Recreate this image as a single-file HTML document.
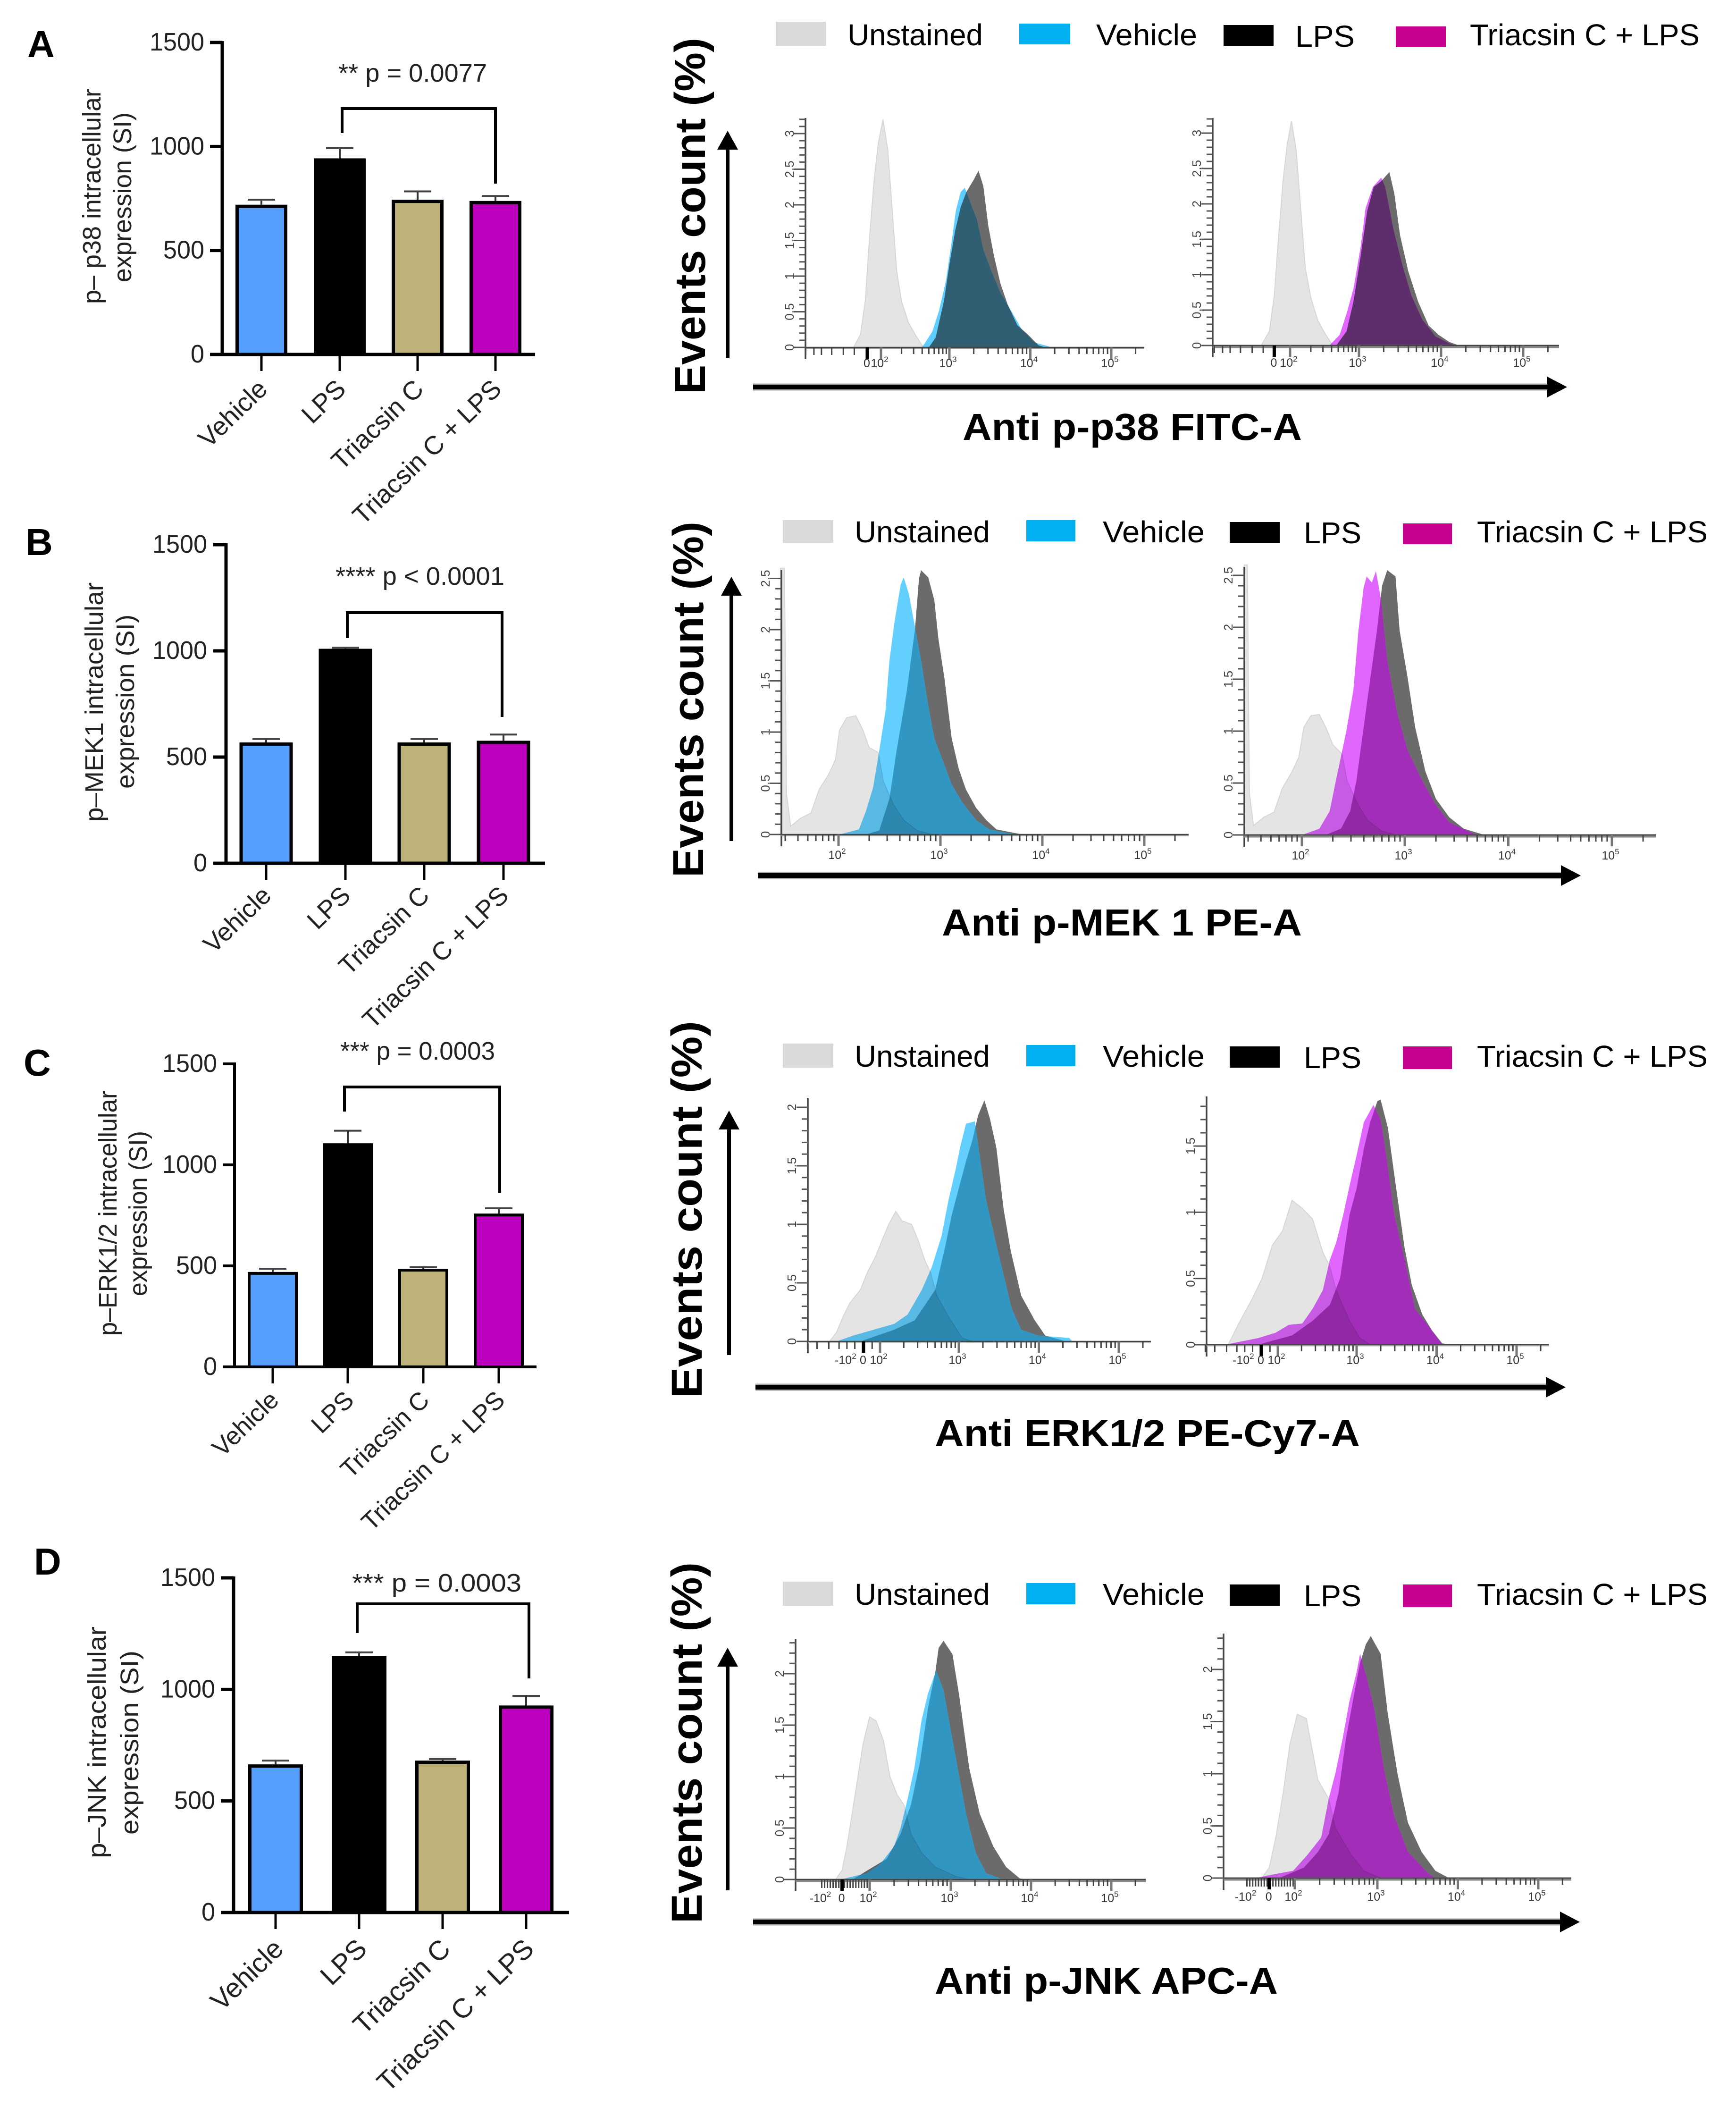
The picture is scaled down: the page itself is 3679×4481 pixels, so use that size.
<!DOCTYPE html>
<html lang="en">
<head>
<meta charset="utf-8">
<title>MAPK phosphorylation bar charts and flow cytometry histograms</title>
<style>
html,body{margin:0;padding:0;background:#fff;}
svg{display:block;}
text{font-family:"Liberation Sans",sans-serif;}
.letter{font-size:80px;font-weight:700;fill:#000;}
.legend{font-size:64px;fill:#000;}
.events{font-size:92px;font-weight:700;fill:#000;}
.htitle{font-size:80px;font-weight:700;fill:#000;}
.ytitle{font-size:54px;fill:#222;}
.annot{font-size:54px;fill:#222;}
</style>
</head>
<body>
<svg id="figure" xmlns="http://www.w3.org/2000/svg" width="3679" height="4481" viewBox="0 0 3679 4481">
<rect x="0" y="0" width="3679" height="4481" fill="#fff"/>

<text class="letter" x="58" y="121">A</text>
<text class="letter" x="54" y="1176">B</text>
<text class="letter" x="50" y="2279">C</text>
<text class="letter" x="72" y="3336">D</text>

<text class="ytitle" transform="translate(213,644) rotate(-90)" textLength="456" lengthAdjust="spacingAndGlyphs">p– p38 intracellular</text>
<text class="ytitle" transform="translate(278,598) rotate(-90)" textLength="360" lengthAdjust="spacingAndGlyphs">expression (SI)</text>
<text class="ytitle" transform="translate(218,1741) rotate(-90)" textLength="507" lengthAdjust="spacingAndGlyphs">p–MEK1 intracellular</text>
<text class="ytitle" transform="translate(284,1671) rotate(-90)" textLength="369" lengthAdjust="spacingAndGlyphs">expression (SI)</text>
<text class="ytitle" transform="translate(247,2830) rotate(-90)" textLength="519" lengthAdjust="spacingAndGlyphs">p–ERK1/2 intracellular</text>
<text class="ytitle" transform="translate(311,2746) rotate(-90)" textLength="350" lengthAdjust="spacingAndGlyphs">expression (SI)</text>
<text class="ytitle" transform="translate(224,3937) rotate(-90)" textLength="491" lengthAdjust="spacingAndGlyphs">p–JNK intracellular</text>
<text class="ytitle" transform="translate(293,3887) rotate(-90)" textLength="390" lengthAdjust="spacingAndGlyphs">expression (SI)</text>

<text class="annot" x="717" y="173" textLength="315" lengthAdjust="spacingAndGlyphs">** p = 0.0077</text>
<text class="annot" x="711" y="1239" textLength="358" lengthAdjust="spacingAndGlyphs">**** p &lt; 0.0001</text>
<text class="annot" x="721" y="2245" textLength="328" lengthAdjust="spacingAndGlyphs">*** p = 0.0003</text>
<text class="annot" x="746" y="3372" textLength="359" lengthAdjust="spacingAndGlyphs">*** p = 0.0003</text>

<text class="events" transform="translate(1494,835) rotate(-90)" textLength="755" lengthAdjust="spacingAndGlyphs">Events count (%)</text>
<text class="events" transform="translate(1490,1859) rotate(-90)" textLength="754" lengthAdjust="spacingAndGlyphs">Events count (%)</text>
<text class="events" transform="translate(1487,2962) rotate(-90)" textLength="799" lengthAdjust="spacingAndGlyphs">Events count (%)</text>
<text class="events" transform="translate(1487,4075) rotate(-90)" textLength="765" lengthAdjust="spacingAndGlyphs">Events count (%)</text>

<text class="htitle" x="2040" y="932" textLength="719" lengthAdjust="spacingAndGlyphs">Anti p-p38 FITC-A</text>
<text class="htitle" x="1996" y="1982" textLength="763" lengthAdjust="spacingAndGlyphs">Anti p-MEK 1 PE-A</text>
<text class="htitle" x="1981" y="3064" textLength="901" lengthAdjust="spacingAndGlyphs">Anti ERK1/2 PE-Cy7-A</text>
<text class="htitle" x="1981" y="4224" textLength="727" lengthAdjust="spacingAndGlyphs">Anti p-JNK APC-A</text>

<g>
<rect x="1644" y="46" width="106" height="51" fill="#d9d9d9"/>
<text class="legend" x="1796" y="96" textLength="287" lengthAdjust="spacingAndGlyphs">Unstained</text>
<rect x="2160" y="50" width="108" height="44" fill="#00b0f0"/>
<text class="legend" x="2323" y="96" textLength="214" lengthAdjust="spacingAndGlyphs">Vehicle</text>
<rect x="2593" y="53" width="106" height="44" fill="#000"/>
<text class="legend" x="2745" y="99" textLength="126" lengthAdjust="spacingAndGlyphs">LPS</text>
<rect x="2958" y="56" width="106" height="44" fill="#c8008f"/>
<text class="legend" x="3115" y="96" textLength="487" lengthAdjust="spacingAndGlyphs">Triacsin C + LPS</text>
</g>
<g>
<rect x="1659" y="1102" width="107" height="48" fill="#d9d9d9"/>
<text class="legend" x="1811" y="1149" textLength="287" lengthAdjust="spacingAndGlyphs">Unstained</text>
<rect x="2175" y="1102" width="104" height="45" fill="#00b0f0"/>
<text class="legend" x="2337" y="1149" textLength="216" lengthAdjust="spacingAndGlyphs">Vehicle</text>
<rect x="2606" y="1106" width="106" height="44" fill="#000"/>
<text class="legend" x="2763" y="1151" textLength="122" lengthAdjust="spacingAndGlyphs">LPS</text>
<rect x="2973" y="1109" width="104" height="44" fill="#c8008f"/>
<text class="legend" x="3130" y="1149" textLength="489" lengthAdjust="spacingAndGlyphs">Triacsin C + LPS</text>
</g>
<g>
<rect x="1659" y="2211" width="107" height="51" fill="#d9d9d9"/>
<text class="legend" x="1811" y="2260" textLength="287" lengthAdjust="spacingAndGlyphs">Unstained</text>
<rect x="2175" y="2214" width="104" height="45" fill="#00b0f0"/>
<text class="legend" x="2337" y="2260" textLength="216" lengthAdjust="spacingAndGlyphs">Vehicle</text>
<rect x="2606" y="2217" width="106" height="45" fill="#000"/>
<text class="legend" x="2763" y="2263" textLength="122" lengthAdjust="spacingAndGlyphs">LPS</text>
<rect x="2973" y="2217" width="104" height="48" fill="#c8008f"/>
<text class="legend" x="3130" y="2260" textLength="489" lengthAdjust="spacingAndGlyphs">Triacsin C + LPS</text>
</g>
<g>
<rect x="1659" y="3351" width="107" height="51" fill="#d9d9d9"/>
<text class="legend" x="1811" y="3400" textLength="287" lengthAdjust="spacingAndGlyphs">Unstained</text>
<rect x="2175" y="3354" width="104" height="45" fill="#00b0f0"/>
<text class="legend" x="2337" y="3400" textLength="216" lengthAdjust="spacingAndGlyphs">Vehicle</text>
<rect x="2606" y="3357" width="106" height="45" fill="#000"/>
<text class="legend" x="2763" y="3403" textLength="122" lengthAdjust="spacingAndGlyphs">LPS</text>
<rect x="2973" y="3357" width="104" height="48" fill="#c8008f"/>
<text class="legend" x="3130" y="3400" textLength="489" lengthAdjust="spacingAndGlyphs">Triacsin C + LPS</text>
</g>
</svg>

<script>
/* ---------- bar chart data ---------- */
const categories = ['Vehicle', 'LPS', 'Triacsin C', 'Triacsin C + LPS'];
const barTickValues = [0, 500, 1000, 1500];
const barFills = ['#559fff', '#000000', '#bdb279', '#bd00bd'];
const meansA = [720, 943, 744, 738];
const errorTopsA = [744, 992, 784, 762];
const meansB = [569, 1010, 569, 577];
const errorTopsB = [585, 1015, 585, 606];
const meansC = [470, 1107, 486, 759];
const errorTopsC = [486, 1169, 494, 785];
const meansD = [664, 1149, 681, 928];
const errorTopsD = [681, 1166, 688, 971];

/* ---------- histogram data: [log10 fluorescence, events %] ---------- */
const a1Unstained = [[1.6,0],[1.7,.18],[1.77,.65],[1.83,1.5],[1.9,2.35],[1.96,2.86],[2.03,3.2],[2.1,2.77],[2.17,1.84],[2.23,1.07],[2.3,.65],[2.4,.35],[2.5,.18],[2.62,0]];
const a1Lps = [[2.7,0],[2.8,.14],[2.92,.65],[3,1.16],[3.07,1.63],[3.14,1.97],[3.21,2.18],[3.3,2.35],[3.36,2.48],[3.42,2.26],[3.48,1.71],[3.55,1.29],[3.63,.9],[3.72,.6],[3.84,.31],[3.97,.18],[4.1,.03],[4.18,0]];
const a1Vehicle = [[2.6,0],[2.75,.22],[2.85,.52],[2.95,.94],[3.02,1.41],[3.08,1.92],[3.14,2.18],[3.19,2.24],[3.27,2],[3.34,1.8],[3.42,1.37],[3.52,1.07],[3.63,.77],[3.76,.52],[3.89,.26],[4.05,.07],[4.27,0]];
const a2Unstained = [[1.58,0],[1.7,.2],[1.77,.7],[1.83,1.5],[1.9,2.35],[1.96,2.85],[2.02,3.17],[2.09,2.75],[2.16,1.85],[2.22,1.1],[2.3,.68],[2.4,.36],[2.5,.18],[2.62,0]];
const a2Lps = [[2.67,0],[2.82,.2],[2.92,.62],[3.02,1.26],[3.1,1.9],[3.18,2.24],[3.27,2.32],[3.37,2.45],[3.43,2.15],[3.5,1.56],[3.6,1.05],[3.72,.62],[3.85,.28],[3.97,.15],[4.1,.05],[4.22,0]];
const a2Triacsin = [[2.57,0],[2.72,.15],[2.82,.45],[2.92,.8],[3.02,1.39],[3.08,1.94],[3.17,2.24],[3.27,2.37],[3.32,2.24],[3.42,1.64],[3.53,1.13],[3.64,.7],[3.77,.37],[3.93,.13],[4.1,.03],[4.18,0]];

const b1Unstained = [[1.43,0],[1.43,2.6],[1.47,2.6],[1.49,.4],[1.53,.08],[1.63,.16],[1.73,.21],[1.81,.44],[1.9,.58],[1.97,.73],[2.01,1.02],[2.08,1.14],[2.17,1.16],[2.24,1.02],[2.3,.85],[2.39,.8],[2.44,.52],[2.54,.29],[2.64,.14],[2.77,.04],[2.91,0]];
const b1Lps = [[2.27,0],[2.4,.04],[2.5,.35],[2.57,.82],[2.67,1.4],[2.75,2],[2.79,2.5],[2.81,2.58],[2.88,2.51],[2.94,2.29],[2.98,1.91],[3.04,1.52],[3.11,.94],[3.18,.64],[3.25,.44],[3.35,.26],[3.45,.14],[3.55,.05],[3.75,.01],[3.82,0]];
const b1Vehicle = [[2.01,0],[2.2,.05],[2.27,.23],[2.34,.46],[2.4,.82],[2.46,1.2],[2.5,1.7],[2.55,2.08],[2.61,2.44],[2.64,2.51],[2.69,2.35],[2.74,2.08],[2.81,1.7],[2.88,1.26],[2.94,.94],[3.02,.73],[3.11,.49],[3.21,.32],[3.35,.14],[3.48,.05],[3.68,.01],[3.78,0]];
const b2Unstained = [[1.44,0],[1.44,2.6],[1.47,2.6],[1.49,.4],[1.53,.09],[1.63,.17],[1.73,.22],[1.81,.45],[1.9,.6],[1.97,.75],[2.02,1.04],[2.09,1.15],[2.17,1.16],[2.24,1.02],[2.3,.87],[2.39,.78],[2.44,.52],[2.54,.3],[2.64,.14],[2.77,.04],[2.91,0]];
const b2Lps = [[2.23,0],[2.38,.06],[2.47,.23],[2.53,.52],[2.63,1.25],[2.73,1.97],[2.78,2.4],[2.83,2.55],[2.91,2.49],[2.95,1.97],[3.03,1.5],[3.1,1.04],[3.2,.61],[3.3,.35],[3.43,.17],[3.57,.06],[3.77,0]];
const b2Triacsin = [[2,0],[2.17,.06],[2.27,.23],[2.33,.52],[2.43,.99],[2.5,1.39],[2.55,1.97],[2.6,2.38],[2.63,2.49],[2.68,2.43],[2.72,2.54],[2.77,2.26],[2.83,1.68],[2.93,1.16],[3.03,.81],[3.17,.52],[3.3,.29],[3.43,.12],[3.67,.01],[3.73,0]];

const c1Unstained = [[1.36,0],[1.45,.08],[1.53,.21],[1.62,.33],[1.75,.44],[1.84,.59],[1.94,.72],[2.03,.87],[2.11,1],[2.2,1.11],[2.28,1.03],[2.4,1],[2.48,.87],[2.57,.69],[2.64,.59],[2.72,.39],[2.87,.21],[3.04,.03],[3.17,0]];
const c1Lps = [[1.75,0],[2.18,.1],[2.44,.18],[2.57,.31],[2.7,.44],[2.83,.82],[2.91,1.08],[3,1.31],[3.09,1.54],[3.17,1.72],[3.24,1.93],[3.32,2.06],[3.39,1.9],[3.47,1.65],[3.56,1.13],[3.65,.77],[3.78,.39],[3.95,.18],[4.08,.05],[4.29,.01],[4.34,0]];
const c1Vehicle = [[1.45,0],[1.66,.05],[1.92,.1],[2.18,.15],[2.35,.23],[2.53,.44],[2.66,.64],[2.78,.9],[2.87,1.21],[2.96,1.47],[3.02,1.67],[3.09,1.86],[3.2,1.88],[3.26,1.59],[3.34,1.21],[3.47,.82],[3.56,.57],[3.66,.28],[3.78,.1],[3.99,.05],[4.38,.03],[4.42,0]];
const c2Unstained = [[1.37,0],[1.54,.2],[1.67,.34],[1.8,.5],[1.93,.75],[2.06,.86],[2.18,1.09],[2.31,1.03],[2.44,.95],[2.57,.7],[2.66,.59],[2.74,.41],[2.91,.18],[3.04,.05],[3.17,0]];
const c2Lps = [[1.75,0],[2.18,.07],[2.44,.18],[2.66,.3],[2.79,.5],[2.91,.98],[3,1.18],[3.09,1.48],[3.17,1.68],[3.26,1.84],[3.3,1.85],[3.39,1.64],[3.49,1.2],[3.6,.73],[3.69,.45],[3.82,.23],[3.94,.11],[4.07,.01],[4.2,0]];
const c2Triacsin = [[1.33,0],[1.75,.05],[1.97,.09],[2.14,.15],[2.31,.16],[2.44,.27],[2.57,.41],[2.66,.64],[2.74,.77],[2.83,.98],[2.91,1.2],[3,1.43],[3.09,1.68],[3.21,1.81],[3.3,1.7],[3.37,1.43],[3.47,.98],[3.6,.64],[3.73,.27],[3.9,.14],[4.07,0]];

const d1Unstained = [[1.58,0],[1.66,.09],[1.72,.32],[1.79,.67],[1.86,1.02],[1.92,1.32],[2,1.58],[2.08,1.54],[2.17,1.35],[2.25,1],[2.34,.82],[2.42,.73],[2.51,.44],[2.64,.26],[2.81,.12],[3.06,.03],[3.23,0]];
const d1Lps = [[1.79,0],[2.04,.12],[2.21,.2],[2.38,.44],[2.51,.73],[2.62,1.14],[2.72,1.67],[2.81,2.02],[2.85,2.25],[2.91,2.32],[3.02,2.19],[3.1,1.81],[3.23,1.08],[3.36,.64],[3.53,.32],[3.69,.12],[3.86,.01],[3.95,0]];
const d1Vehicle = [[1.64,0],[1.96,.06],[2.13,.15],[2.3,.32],[2.38,.5],[2.47,.79],[2.55,1.08],[2.64,1.55],[2.72,1.81],[2.82,2.03],[2.91,1.84],[2.99,1.49],[3.1,1.02],[3.19,.64],[3.31,.26],[3.44,.06],[3.65,0]];
const d2Unstained = [[1.6,0],[1.69,.1],[1.77,.39],[1.86,.82],[1.94,1.28],[2.03,1.57],[2.14,1.53],[2.21,1.23],[2.28,.94],[2.41,.76],[2.49,.48],[2.66,.25],[2.83,.07],[3.04,0]];
const d2Lps = [[1.81,0],[2.11,.1],[2.28,.25],[2.41,.42],[2.53,.82],[2.62,1.34],[2.72,1.77],[2.79,2.06],[2.86,2.24],[2.92,2.32],[3.04,2.15],[3.13,1.57],[3.25,1],[3.38,.53],[3.55,.25],[3.72,.07],[3.89,0]];
const d2Triacsin = [[1.52,0],[1.77,.04],[1.98,.07],[2.15,.22],[2.32,.39],[2.41,.76],[2.49,1],[2.58,1.34],[2.66,1.69],[2.75,1.98],[2.79,2.15],[2.87,1.92],[2.96,1.63],[3.08,1.05],[3.21,.59],[3.38,.25],[3.64,.04],[3.72,0]];

/* ---------- histogram axis ticks ---------- */
const histDecades = [2, 3, 4, 5];
const lowTicksA = [.9, 1.02, 1.13, 1.28, 1.45, 1.61];
const lowTicksC = [1.08, 1.2, 1.35, 1.48, 1.58, 1.68, 1.9];
const yTicks3 = [0, .5, 1, 1.5, 2, 2.5, 3];
const yTicks25 = [0, .5, 1, 1.5, 2, 2.5];
const yTicks2 = [0, .5, 1, 1.5, 2];
const yTicks15 = [0, .5, 1, 1.5];

/* ---------- layout (not data) ---------- */
const barPanels = [
  {id:'a', means:meansA, errs:errorTopsA, axisX:471, top:90, y0:751, left:445, right:1134, centers:[554,720,885,1050], bw:110, sw:7, labelX:433, font:55, dx:16, dy:77,
   br:{x1:725, x2:1050, top:230, b1:282, b2:389}},
  {id:'b', means:meansB, errs:errorTopsB, axisX:479, top:1154, y0:1829, left:452, right:1155, centers:[564,732,899,1067], bw:113, sw:7, labelX:439, font:54, dx:14, dy:72,
   br:{x1:736, x2:1064, top:1298, b1:1352, b2:1519}},
  {id:'c', means:meansC, errs:errorTopsC, axisX:497, top:2254, y0:2896, left:472, right:1137, centers:[578,737,897,1057], bw:106, sw:6, labelX:460, font:53, dx:16, dy:74,
   br:{x1:730, x2:1059, top:2303, b1:2355, b2:2527}},
  {id:'d', means:meansD, errs:errorTopsD, axisX:495, top:3343, y0:4052, left:468, right:1206, centers:[584,761,938,1115], bw:116, sw:7, labelX:456, font:58, dx:20, dy:81,
   br:{x1:757, x2:1121, top:3398, b1:3460, b2:3556}}
];

const histPlots = [
  {id:'a-left', un:a1Unstained, lps:a1Lps, trt:a1Vehicle, axisX:1707, top:250, y0:736, unit:151, x2:1867, x3:2012, x5:2355, right:2425, yt:yTicks3, low:lowTicksA, zero:1.8, neg:null, lblDy:42, overlap:'#305e72', light:'#5fcdff', gray:'#999', gw:3},
  {id:'a-right', un:a2Unstained, lps:a2Lps, trt:a2Triacsin, axisX:2570, top:250, y0:732, unit:150, x2:2734, x3:2880, x5:3228, right:3304, yt:yTicks3, low:lowTicksA, zero:1.77, neg:null, lblDy:45, overlap:'#5e2e6c', light:'#e066ff', gray:'#888', gw:7},
  {id:'b-left', un:b1Unstained, lps:b1Lps, trt:b1Vehicle, axisX:1656, top:1208, y0:1768, unit:217, x2:1777, x3:1993, x5:2425, right:2519, yt:yTicks25, low:null, zero:null, neg:null, lblDy:52, overlap:'#3296c3', light:'#62cfff', gray:'#999', gw:3},
  {id:'b-right', un:b2Unstained, lps:b2Lps, trt:b2Triacsin, axisX:2637, top:1201, y0:1769, unit:220, x2:2759, x3:2977, x5:3416, right:3510, yt:yTicks25, low:null, zero:null, neg:null, lblDy:52, overlap:'#a22db9', light:'#e066ff', gray:'#888', gw:7},
  {id:'c-left', un:c1Unstained, lps:c1Lps, trt:c1Vehicle, axisX:1712, top:2326, y0:2842, unit:248, x2:1865, x3:2032, x5:2371, right:2439, yt:yTicks2, low:lowTicksC, zero:1.79, neg:1.58, lblDy:48, overlap:'#3296c3', light:'#62cfff', gray:'#bbb', gw:3},
  {id:'c-right', un:c2Unstained, lps:c2Lps, trt:c2Triacsin, axisX:2557, top:2323, y0:2849, unit:280.6, x2:2708, x3:2875, x5:3214, right:3282, yt:yTicks15, low:lowTicksC, zero:1.79, neg:1.58, lblDy:41, overlap:'#a22db9', light:'#e066ff', gray:'#bbb', gw:3},
  {id:'d-left', un:d1Unstained, lps:d1Lps, trt:d1Vehicle, axisX:1686, top:3472, y0:3982, unit:218, x2:1843, x3:2015, x5:2355, right:2428, yt:yTicks2, low:'dense', zero:1.66, neg:1.41, lblDy:48, overlap:'#3296c3', light:'#62cfff', gray:'#888', gw:7},
  {id:'d-right', un:d2Unstained, lps:d2Lps, trt:d2Triacsin, axisX:2593, top:3461, y0:3979, unit:221, x2:2744, x3:2919, x5:3260, right:3330, yt:yTicks2, low:'dense', zero:1.69, neg:1.42, lblDy:48, overlap:'#a22db9', light:'#e066ff', gray:'#888', gw:7}
];

const arrows = [
  {id:'a', vx:1542, vBottom:759, vTip:277, hy:820, hLeft:1596, hTip:3321},
  {id:'b', vx:1550, vBottom:1782, vTip:1222, hy:1855, hLeft:1606, hTip:3350},
  {id:'c', vx:1545, vBottom:2871, vTip:2353, hy:2939, hLeft:1601, hTip:3318},
  {id:'d', vx:1542, vBottom:4005, vTip:3491, hy:4072, hLeft:1596, hTip:3348}
];

/* ---------- helpers ---------- */
const NS = 'http://www.w3.org/2000/svg';
const fig = document.getElementById('figure');
function make(tag, attrs, parent) {
  const n = document.createElementNS(NS, tag);
  for (const k in attrs) n.setAttribute(k, attrs[k]);
  parent.appendChild(n);
  return n;
}
function line(parent, x1, y1, x2, y2, stroke, width) {
  return make('line', {x1:x1, y1:y1, x2:x2, y2:y2, stroke:stroke, 'stroke-width':width}, parent);
}

/* ---------- bar charts ---------- */
barPanels.forEach(function (p) {
  const g = make('g', {}, fig);
  
  
  const scaleY = function (v) { return p.y0 - v * (p.y0 - p.top) / 1500; };

  p.means.forEach(function (v, i) {
    const cx = p.centers[i];
    const eb = make('g', {}, g);
    
    
    line(eb, cx, scaleY(v), cx, scaleY(p.errs[i]), '#333', 4);
    line(eb, cx - 29, scaleY(p.errs[i]), cx + 29, scaleY(p.errs[i]), '#444', 4);

    const bar = make('rect', {x:cx - p.bw / 2 + p.sw / 2, y:scaleY(v) + p.sw / 2, width:p.bw - p.sw, height:p.y0 - scaleY(v) - p.sw / 2, fill:barFills[i], stroke:'#000', 'stroke-width':p.sw}, g);
    
    

    const tick = line(g, cx, p.y0, cx, p.y0 + 35, '#000', 5);
    
    

    const lx = cx + p.dx, ly = p.y0 + p.dy;
    const label = make('text', {transform:'translate(' + lx + ',' + ly + ') rotate(-44)', 'text-anchor':'end', 'font-size':p.font, fill:'#222'}, g);
    label.textContent = categories[i];
    
    
  });

  const yAxis = line(g, p.axisX, p.top - 3, p.axisX, p.y0 + 3, '#000', p.sw);
  
  
  const xAxis = line(g, p.left, p.y0, p.right, p.y0, '#000', p.sw);
  
  

  barTickValues.forEach(function (v) {
    const tick = line(g, p.left, scaleY(v), p.axisX, scaleY(v), '#000', p.sw);
    
    
    const label = make('text', {x:p.labelX, y:scaleY(v) + 17, 'text-anchor':'end', 'font-size':54, fill:'#222', textLength:String(v).length * 29, lengthAdjust:'spacingAndGlyphs'}, g);
    label.textContent = v;
    
    
  });

  const b = p.br;
  const bracket = make('polyline', {points:b.x1 + ',' + b.b1 + ' ' + b.x1 + ',' + b.top + ' ' + b.x2 + ',' + b.top + ' ' + b.x2 + ',' + b.b2, fill:'none', stroke:'#000', 'stroke-width':6}, g);
  
  
});

/* ---------- histograms ---------- */
histPlots.forEach(function (p) {
  const g = make('g', {}, fig);
  
  

  const histX = function (l) {
    return l < 3 ? p.x3 + (l - 3) * (p.x3 - p.x2) : p.x3 + (l - 3) * (p.x5 - p.x3) / 2;
  };
  const histY = function (v) { return p.y0 - v * p.unit; };
  const areaPath = function (series) {
    let d = 'M' + histX(series[0][0]) + ' ' + p.y0;
    series.forEach(function (pt) { d += 'L' + histX(pt[0]).toFixed(1) + ' ' + histY(pt[1]).toFixed(1); });
    return d + 'L' + histX(series[series.length - 1][0]) + ' ' + p.y0 + 'Z';
  };

  const clip = make('clipPath', {id:'clip-' + p.id}, g);
  make('path', {d:areaPath(p.lps)}, clip);

  const lps = make('path', {d:areaPath(p.lps), fill:'#6b6b6b'}, g);
  
  

  const trt = make('path', {d:areaPath(p.trt), fill:p.light}, g);
  
  

  const both = make('path', {d:areaPath(p.trt), fill:p.overlap, 'clip-path':'url(#clip-' + p.id + ')'}, g);
  
  

  const un = make('path', {d:areaPath(p.un), fill:'#e4e4e4', stroke:'#d6d6d6', 'stroke-width':2, style:'mix-blend-mode:multiply'}, g);
  
  

  /* axes */
  const axisColor = '#444';
  const yAxis = line(g, p.axisX, p.top, p.axisX, p.y0 + 25, axisColor, 3.5);
  
  
  line(g, p.axisX, p.y0 + 2, p.right, p.y0 + 2, p.gray, p.gw);
  const xAxis = line(g, p.axisX - 20, p.y0, p.right, p.y0, axisColor, 2.5);
  
  

  /* y ticks */
  const yMax = (p.y0 - p.top) / p.unit;
  for (let i = 0; i <= Math.floor(yMax * 10); i++) {
    const major = i % 5 === 0;
    line(g, p.axisX - (major ? 24 : 13), histY(i / 10), p.axisX, histY(i / 10), '#555', 3);
  }
  p.yt.forEach(function (v) {
    const ly = histY(v);
    const lx = p.axisX - 25;
    const t = make('text', {transform:'translate(' + lx + ',' + ly + ') rotate(-90)', 'text-anchor':'middle', 'font-size':26, fill:'#444'}, g);
    t.textContent = v;
    
    
  });

  /* x ticks */
  const tickG = make('g', {stroke:'#444', 'stroke-width':3}, g);
  
  
  for (let d = 1; d <= 5; d++) {
    for (let k = 2; k <= 9; k++) {
      const l = d + Math.log10(k);
      if (d === 1 && p.low) continue;
      const x = histX(l);
      if (x > p.axisX && x < p.right - 10) make('line', {x1:x, y1:p.y0, x2:x, y2:p.y0 + 14}, tickG);
    }
  }
  if (p.low === 'dense') {
    for (let l = p.neg; l < 1.98; l += .035) {
      make('line', {x1:histX(l), y1:p.y0, x2:histX(l), y2:p.y0 + 18}, tickG);
    }
  } else if (p.low) {
    p.low.forEach(function (l) {
      make('line', {x1:histX(l), y1:p.y0, x2:histX(l), y2:p.y0 + 16}, tickG);
    });
  }
  histDecades.forEach(function (d) {
    const x = histX(d);
    make('line', {x1:x, y1:p.y0, x2:x, y2:p.y0 + 24, 'stroke-width':5, stroke:'#777'}, tickG);
    const t = make('text', {x:x - 3, y:p.y0 + p.lblDy, 'text-anchor':'middle', 'font-size':25, fill:'#333'}, g);
    t.textContent = '10';
    const sup = make('tspan', {dy:-11, 'font-size':17}, t);
    sup.textContent = d;
    
    
  });
  if (p.zero !== null) {
    make('line', {x1:histX(p.zero), y1:p.y0, x2:histX(p.zero), y2:p.y0 + 24, 'stroke-width':7, stroke:'#000'}, tickG);
    const z = make('text', {x:histX(p.zero) - 1, y:p.y0 + p.lblDy, 'text-anchor':'middle', 'font-size':25, fill:'#333'}, g);
    z.textContent = '0';
    
    
  }
  if (p.neg !== null) {
    const n = make('text', {x:histX(p.neg) - 3, y:p.y0 + p.lblDy, 'text-anchor':'middle', 'font-size':25, fill:'#333'}, g);
    n.textContent = '-10';
    const sup = make('tspan', {dy:-11, 'font-size':17}, n);
    sup.textContent = '2';
    
    
  }
});

/* ---------- large axis arrows ---------- */
arrows.forEach(function (a) {
  const v = make('g', {}, fig);
  
  
  line(v, a.vx, a.vBottom, a.vx, a.vTip + 30, '#000', 8);
  make('polygon', {points:a.vx + ',' + a.vTip + ' ' + (a.vx + 22) + ',' + (a.vTip + 40) + ' ' + (a.vx - 22) + ',' + (a.vTip + 40), fill:'#000'}, v);

  const h = make('g', {}, fig);
  
  
  line(h, a.hLeft, a.hy, a.hTip - 30, a.hy, '#aaa', 15);
  line(h, a.hLeft, a.hy, a.hTip - 30, a.hy, '#000', 10);
  make('polygon', {points:a.hTip + ',' + a.hy + ' ' + (a.hTip - 42) + ',' + (a.hy - 22) + ' ' + (a.hTip - 42) + ',' + (a.hy + 22), fill:'#000'}, h);
});
</script>
</body>
</html>
